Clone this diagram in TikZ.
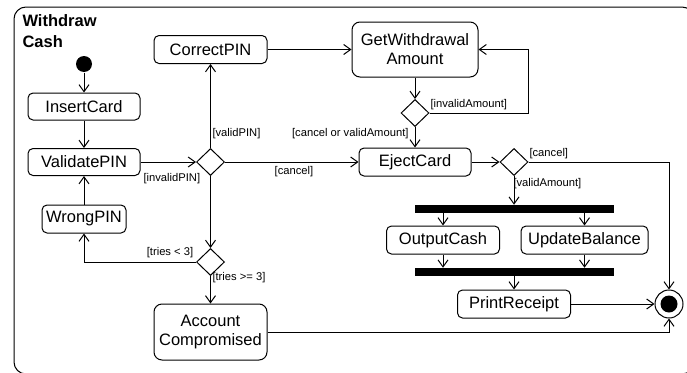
\documentclass[tikz,border=0pt]{standalone}
\usepackage{fontspec}
\setmainfont{Liberation Sans}
\usetikzlibrary{arrows.meta,shapes.geometric}
\begin{document}
\begin{tikzpicture}[x=1pt,y=-1pt,
  line width=1pt,
  nfont/.style={font=\fontsize{16.5}{19}\selectfont},
  gfont/.style={font=\fontsize{11.2}{13}\selectfont, inner sep=0pt},
  act/.style={draw, rounded corners=5pt, nfont, inner sep=0pt, minimum height=28pt},
  bigact/.style={draw, rounded corners=8pt, nfont, inner sep=0pt, align=center},
  dec/.style={draw, diamond, inner sep=0pt, minimum width=28pt, minimum height=27pt},
  bar/.style={fill=black, inner sep=0pt, minimum width=199pt, minimum height=7.5pt},
  arr/.style={-{Straight Barb[length=7pt,width=10pt]}},
  guard/.style={gfont}
]
\useasboundingbox (0,0) rectangle (687,372);
\begin{scope}
\clip (0,0) rectangle (687,372);
\draw[rounded corners=12pt] (14,7) rectangle (694,374);
\end{scope}
\node[anchor=north west, inner sep=0pt, align=left, font=\fontsize{16.5}{21}\selectfont\bfseries] (title) at (22,14) {Withdraw\\Cash};

% nodes
\node[circle, fill=black, minimum size=16pt, inner sep=0pt] (init) at (84,64) {};
\node[act, minimum width=112pt, minimum height=27pt] (ins) at (84,106.5) {InsertCard};
\node[act, minimum width=112pt, minimum height=27pt] (val) at (84,162) {ValidatePIN};
\node[act, minimum width=84pt] (wrong) at (84,219) {WrongPIN};
\node[act, minimum width=113pt] (corr) at (210.5,49.5) {CorrectPIN};
\node[dec] (d1) at (210.5,162) {};
\node[dec] (d2) at (210.5,262) {};
\node[bigact, minimum width=113pt, minimum height=56pt] (acc) at (210.5,332) {Account\\Compromised};
\node[bigact, minimum width=126pt, minimum height=55pt] (gwa) at (415,49.5) {GetWithdrawal\\Amount};
\node[dec] (d3) at (415,113) {};
\node[act, minimum width=112pt] (eject) at (415,162) {EjectCard};
\node[dec] (d4) at (514,162) {};
\node[bar] (fork) at (514,209) {};
\node[act, minimum width=113pt] (out) at (443,240) {OutputCash};
\node[act, minimum width=127pt] (upd) at (584.5,240) {UpdateBalance};
\node[bar] (join) at (514,272) {};
\node[act, minimum width=113pt] (print) at (514,304) {PrintReceipt};
\node[circle, draw, minimum size=28pt, inner sep=0pt] (final) at (669,304) {};
\node[circle, fill=black, minimum size=17pt, inner sep=0pt] (finaldot) at (final) {};
\coordinate (loop) at (528,113);

% edges
\draw[arr] (init) -- (ins);
\draw[arr] (ins) -- (val);
\draw[arr] (wrong) -- (val);
\draw[arr] (val.east) -- (d1.west);
\draw[arr] (d1.north) -- (corr.south);
\draw[arr] (d1.east) -- (eject.west);
\draw[arr] (d1.south) -- (d2.north);
\draw[arr] (d2.west) -| (wrong.south);
\draw[arr] (d2.south) -- (acc.north);
\draw[arr] (acc.east) -| (final.south);
\draw[arr] (corr.east) -- (gwa.west);
\draw[arr] (gwa.south) -- (d3.north);
\draw[arr] (d3.east) -- (loop) |- (gwa.east);
\draw[arr] (d3.south) -- (eject.north);
\draw[arr] (eject.east) -- (d4.west);
\draw[arr] (d4.east) -| (final.north);
\draw[arr] (d4.south) -- (fork.north);
\draw[arr] (out.north |- fork.south) -- (out.north);
\draw[arr] (upd.north |- fork.south) -- (upd.north);
\draw[arr] (out.south) -- (out.south |- join.north);
\draw[arr] (upd.south) -- (upd.south |- join.north);
\draw[arr] (join.south) -- (print.north);
\draw[arr] (print.east) -- (final.west);

% guards
\node[guard, anchor=west] (g1) at (212,134) {[validPIN]};
\node[guard, anchor=east] (g2) at (409,134) {[cancel or validAmount]};
\node[guard, anchor=west] (g3) at (143,179) {[invalidPIN]};
\node[guard] (g4) at (294,172) {[cancel]};
\node[guard] (g5) at (170,253) {[tries < 3]};
\node[guard, anchor=west] (g6) at (212,277.5) {[tries >= 3]};
\node[guard, anchor=west] (g7) at (430,105) {[invalidAmount]};
\node[guard, anchor=west] (g8) at (529,154) {[cancel]};
\node[guard, anchor=west] (g9) at (513,184) {[validAmount]};
\end{tikzpicture}
\end{document}
